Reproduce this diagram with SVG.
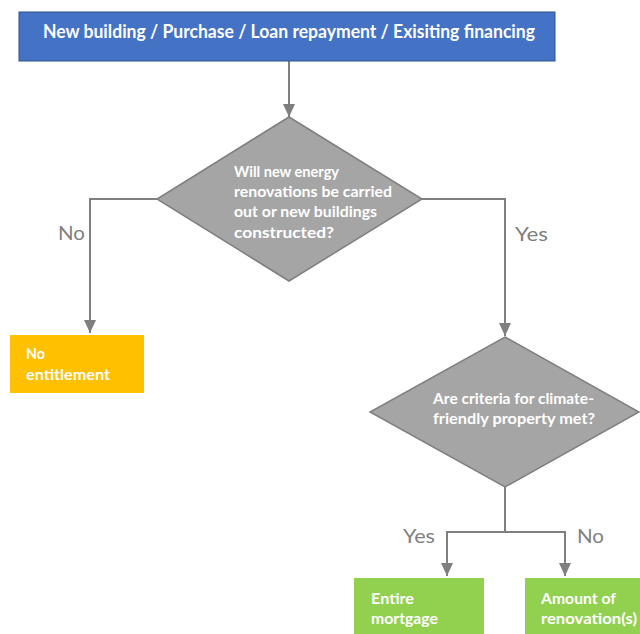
<svg xmlns="http://www.w3.org/2000/svg" width="640" height="634" viewBox="0 0 640 634">
<defs>
<marker id="arr" viewBox="0 0 13 12" refX="13" refY="6" markerWidth="13" markerHeight="12" markerUnits="userSpaceOnUse" orient="auto">
<path d="M0,0 L13,6 L0,12 Z" fill="#7f7f7f"/>
</marker>
<style>
.t{font-family:Lato,"Liberation Sans",Arial,sans-serif;font-weight:bold;fill:#ffffff;font-size:16px}
.lbl{font-family:Lato,"Liberation Sans",Arial,sans-serif;fill:#7f7f7f;font-size:20px}
.dia{fill:#a5a5a5;stroke:#7f7f7f;stroke-width:1.5}
.con{fill:none;stroke:#7f7f7f;stroke-width:2}
</style>
</defs>
<rect width="640" height="634" fill="#ffffff"/>
<g id="connectors">
<path class="con" d="M289,61 V117" marker-end="url(#arr)"/>
<path class="con" d="M157,199 H90 V333" marker-end="url(#arr)"/>
<path class="con" d="M422,199 H505 V336" marker-end="url(#arr)"/>
<path class="con" d="M505,486 V532 M447,532 H565"/>
<path class="con" d="M447,531 V576" marker-end="url(#arr)"/>
<path class="con" d="M565,531 V576" marker-end="url(#arr)"/>
<text class="lbl" x="58" y="240" textLength="27" lengthAdjust="spacingAndGlyphs">No</text>
<text class="lbl" x="515" y="241" textLength="33" lengthAdjust="spacingAndGlyphs">Yes</text>
<text class="lbl" x="403" y="543" textLength="32" lengthAdjust="spacingAndGlyphs">Yes</text>
<text class="lbl" x="577" y="543" textLength="27" lengthAdjust="spacingAndGlyphs">No</text>
</g>
<g id="start">
<rect x="19" y="12" width="536" height="49" fill="#4472c4" stroke="#2f528f" stroke-width="1"/>
<text class="t" x="43" y="38" textLength="492" lengthAdjust="spacingAndGlyphs" style="font-size:18px">New building / Purchase / Loan repayment / Exisiting financing</text>
</g>
<g id="decision1">
<polygon class="dia" points="289,117 422,199 289,281 157,199"/>
<text class="t" x="234" y="177" textLength="105" lengthAdjust="spacingAndGlyphs">Will new energy</text>
<text class="t" x="234" y="197" textLength="158" lengthAdjust="spacingAndGlyphs">renovations be carried</text>
<text class="t" x="234" y="217" textLength="143" lengthAdjust="spacingAndGlyphs">out or new buildings</text>
<text class="t" x="234" y="238" textLength="100" lengthAdjust="spacingAndGlyphs">constructed?</text>
</g>
<g id="no-entitlement">
<rect x="10" y="335" width="134" height="58" fill="#ffc000"/>
<text class="t" x="26" y="359" textLength="19" lengthAdjust="spacingAndGlyphs">No</text>
<text class="t" x="26" y="380" textLength="84" lengthAdjust="spacingAndGlyphs">entitlement</text>
</g>
<g id="decision2">
<polygon class="dia" points="505,337 639,412 505,487 370,412"/>
<text class="t" x="433" y="404" textLength="161" lengthAdjust="spacingAndGlyphs">Are criteria for climate-</text>
<text class="t" x="433" y="424" textLength="162" lengthAdjust="spacingAndGlyphs">friendly property met?</text>
</g>
<g id="entire-mortgage">
<rect x="354" y="578" width="130" height="60" fill="#92d050"/>
<text class="t" x="371" y="604" textLength="43" lengthAdjust="spacingAndGlyphs">Entire</text>
<text class="t" x="371" y="624" textLength="67" lengthAdjust="spacingAndGlyphs">mortgage</text>
</g>
<g id="amount-renovation">
<rect x="525" y="578" width="120" height="60" fill="#92d050"/>
<text class="t" x="541" y="604" textLength="75" lengthAdjust="spacingAndGlyphs">Amount of</text>
<text class="t" x="541" y="624" textLength="96" lengthAdjust="spacingAndGlyphs">renovation(s)</text>
</g>
</svg>
